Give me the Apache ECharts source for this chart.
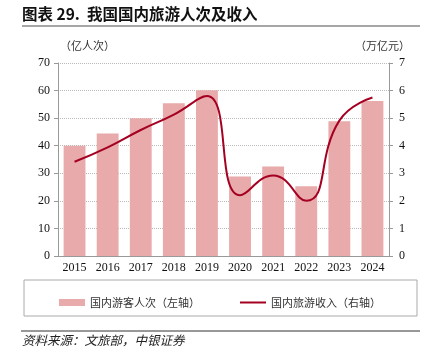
<!DOCTYPE html>
<html><head><meta charset="utf-8">
<script src="https://cdn.jsdelivr.net/npm/echarts@6/dist/echarts.min.js"></script>
<style>html,body{margin:0;padding:0;background:#fff}#c{width:432px;height:358px}</style>
</head><body><div id="c"></div>
<script>
var years = ['2015','2016','2017','2018','2019','2020','2021','2022','2023','2024'];
var visitors = [40.0, 44.4, 50.0, 55.4, 60.1, 28.8, 32.5, 25.3, 48.9, 56.2];
var income = [3.42, 3.94, 4.57, 5.13, 5.8, 2.2, 2.92, 2.0, 4.91, 5.75];
var leftTicks = [0, 70, 10];
var rightTicks = [0, 7, 1];

var serif = '"Liberation Serif","Times New Roman",serif';
var cjk = '"Noto Sans CJK SC",sans-serif';
var chart = echarts.init(document.getElementById('c'));
chart.setOption({
  animation: false,
  grid: {left: 58, right: 43, top: 63, bottom: 102},
  legend: {
    left: 54, top: 292, itemGap: 40,
    textStyle: {fontFamily: cjk, fontSize: 11, color: '#333'},
    data: [
      {name: '国内游客人次（左轴）', icon: 'rect', itemStyle: {color: '#e8aaaa'}},
      {name: '国内旅游收入（右轴）', icon: 'path://M0 0H26V2H0Z', itemStyle: {color: '#a50021'}}
    ],
    itemWidth: 26, itemHeight: 7
  },
  graphic: [
    {type: 'text', left: 22, top: 6, style: {text: '图表 29.  我国国内旅游人次及收入', font: 'bold 15.5px ' + cjk, fill: '#111'}},
    {type: 'line', shape: {x1: 22, y1: 26, x2: 420, y2: 26}, style: {stroke: '#888', lineWidth: 1.5}},
    {type: 'text', left: 60, top: 40, style: {text: '（亿人次）', font: '11px ' + cjk, fill: '#333'}},
    {type: 'text', left: 355, top: 40, style: {text: '（万亿元）', font: '11px ' + cjk, fill: '#333'}},
    {type: 'rect', shape: {x: 24, y: 280, width: 393, height: 36}, style: {fill: 'none', stroke: '#aaa', lineWidth: 1}},
    {type: 'line', shape: {x1: 21, y1: 331, x2: 420, y2: 331}, style: {stroke: '#333', lineWidth: 1}},
    {type: 'text', left: 22, top: 334, style: {text: '资料来源：文旅部，中银证券', font: 'italic 12.5px ' + cjk, fill: '#222'}}
  ],
  xAxis: {
    type: 'category', data: years, boundaryGap: true,
    axisLine: {lineStyle: {color: '#999'}},
    axisTick: {alignWithLabel: false, lineStyle: {color: '#999'}, length: 4},
    axisLabel: {fontFamily: serif, fontSize: 12, color: '#111', margin: 6}
  },
  yAxis: [
    {type: 'value', min: leftTicks[0], max: leftTicks[1], interval: leftTicks[2],
     axisLine: {show: true, lineStyle: {color: '#999'}},
     axisTick: {show: true, lineStyle: {color: '#999'}, length: 4},
     axisLabel: {fontFamily: serif, fontSize: 12, color: '#111', margin: 8},
     splitLine: {lineStyle: {color: '#bbb', type: 'dotted'}}},
    {type: 'value', min: rightTicks[0], max: rightTicks[1], interval: rightTicks[2],
     axisLine: {show: true, lineStyle: {color: '#999'}},
     axisTick: {show: true, lineStyle: {color: '#999'}, length: 4},
     axisLabel: {fontFamily: serif, fontSize: 12, color: '#111', margin: 10},
     splitLine: {show: false}}
  ],
  series: [
    {name: '国内游客人次（左轴）', type: 'bar', data: visitors, barWidth: '66%',
     itemStyle: {color: '#e8aaaa'}},
    {name: '国内旅游收入（右轴）', type: 'line', yAxisIndex: 1, data: income, smooth: 0.5,
     showSymbol: false, symbol: 'none', lineStyle: {color: '#a50021', width: 2}, itemStyle: {color: '#a50021'}}
  ]
});
</script></body></html>
